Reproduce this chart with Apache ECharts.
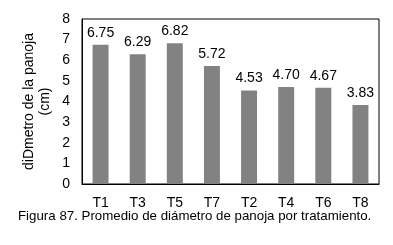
<!DOCTYPE html>
<html><head><meta charset="utf-8">
<script src="https://cdn.jsdelivr.net/npm/echarts@6/dist/echarts.min.js"></script>
<style>html,body{margin:0;padding:0;background:#fff}#c{width:393px;height:245px}</style>
</head><body><div id="c"></div>
<script>
const categories = ['T1','T3','T5','T7','T2','T4','T6','T8'];
const values = [6.75, 6.29, 6.82, 5.72, 4.53, 4.70, 4.67, 3.83];
const yTicks = [0,1,2,3,4,5,6,7,8];
const yName = 'diDmetro de la panoja\n(cm)';
const caption = 'Figura 87. Promedio de diámetro de panoja por tratamiento.';

const font = 'Arial, "Liberation Sans", sans-serif';
const chart = echarts.init(document.getElementById('c'), null, {renderer:'canvas'});
chart.setOption({
  animation:false,
  backgroundColor:'#fff',
  title:{text:caption, left:13, top:205,
    textStyle:{fontFamily:font, fontSize:13.3, fontWeight:'normal', color:'#000'}},
  grid:{left:82, top:19, right:14, bottom:61, show:true, borderColor:'#000', borderWidth:1},
  xAxis:{type:'category', data:categories,
    axisLine:{lineStyle:{color:'#000'}}, axisTick:{show:false},
    axisLabel:{color:'#000', fontFamily:font, fontSize:14, margin:12}},
  yAxis:{type:'value', min:yTicks[0], max:yTicks[yTicks.length-1], interval:1,
    name:yName, nameLocation:'middle', nameGap:29, nameMoveOverlap:false,
    nameTextStyle:{color:'#000', fontFamily:font, fontSize:14, lineHeight:16},
    axisLine:{show:true, lineStyle:{color:'#000'}}, axisTick:{show:false},
    splitLine:{show:false},
    axisLabel:{color:'#000', fontFamily:font, fontSize:14, margin:12}},
  series:[{type:'bar', data:values, barWidth:'43%',
    itemStyle:{color:'#828282'},
    label:{show:true, position:'top', distance:5, color:'#000', fontFamily:font, fontSize:14,
      formatter:p=>p.value.toFixed(2)}}]
});
</script></body></html>
